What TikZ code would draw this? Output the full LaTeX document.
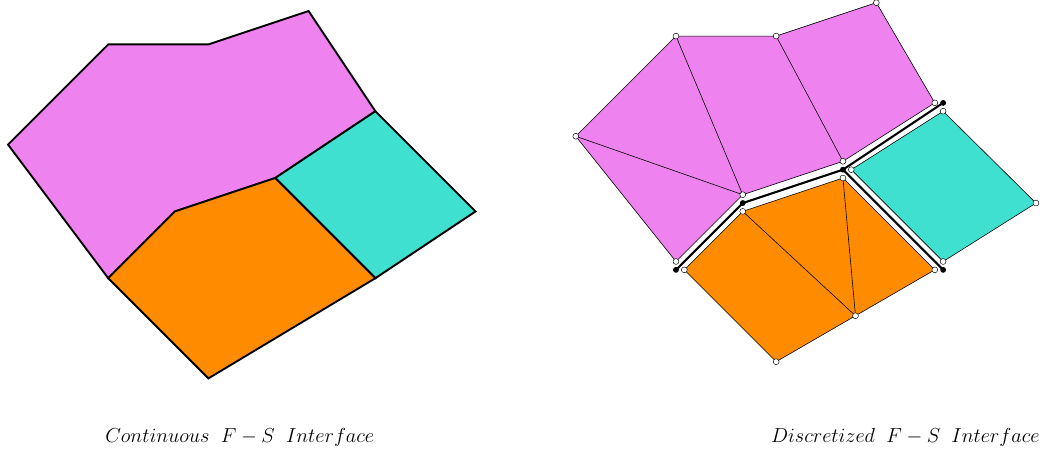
\documentclass[tikz,border=0pt]{standalone}
\usepackage{amsmath,amssymb}
\usepackage{xcolor}
\usepackage{tikz}
\usetikzlibrary{calc}
\definecolor{fluidviolet}{RGB}{238, 130, 238}
\definecolor{solidteal}{RGB}{64, 224, 208}
\definecolor{solidorange}{RGB}{255, 140, 0}

\begin{document}
\begin{tikzpicture}[x=1cm, y=1cm]
    \useasboundingbox (-0.24,0.33) rectangle (31.23,-13.20);
    \tikzset{
        region/.style={draw=black, line width=1.6pt, line join=miter},
        element/.style={draw=black, line width=0.5pt},
        meshline/.style={black, line width=0.5pt},
        interface/.style={black, line width=1.8pt},
        freenode/.style={circle, draw=black, fill=white, line width=0.4pt, inner sep=0pt, minimum size=5pt},
        ifacenode/.style={circle, fill=black, inner sep=0pt, minimum size=5pt},
        caption/.style={font=\fontsize{17.5}{21}\selectfont}
    }

    % Continuous domain
    \coordinate (A) at (0,-4);
    \coordinate (B) at (3,-1);
    \coordinate (C) at (6,-1);
    \coordinate (D) at (9,0);
    \coordinate (E) at (11,-3);
    \coordinate (F) at (14,-6);
    \coordinate (G) at (11,-8);
    \coordinate (H) at (6,-11);
    \coordinate (I) at (3,-8);
    \coordinate (J) at (5,-6);
    \coordinate (K) at (8,-5);

    \filldraw[region, fill=fluidviolet] (A) -- (B) -- (C) -- (D) -- (E) -- (K) -- (J) -- (I) -- cycle;
    \filldraw[region, fill=solidteal] (E) -- (F) -- (G) -- (K) -- cycle;
    \filldraw[region, fill=solidorange] (I) -- (J) -- (K) -- (G) -- (H) -- cycle;

    \node[caption] (capL) at (6.94,-12.78) {$Continuous\mkern10mu F-S\mkern10mu Interface$};

    % Discretized domain: fluid mesh
    \coordinate (vA) at (17,-3.75);
    \coordinate (vB) at (20,-0.75);
    \coordinate (vC) at (23,-0.75);
    \coordinate (vD) at (26,0.25);
    \coordinate (vE) at (27.75,-2.75);
    \coordinate (vK) at (25,-4.5);
    \coordinate (vJ) at (22,-5.5);
    \coordinate (vI) at (20,-7.5);

    \filldraw[element, fill=fluidviolet] (vA) -- (vB) -- (vC) -- (vD) -- (vE) -- (vK) -- (vJ) -- (vI) -- cycle;
    \draw[meshline] (vA) -- (vJ);
    \draw[meshline] (vB) -- (vJ);
    \draw[meshline] (vC) -- (vK);

    % Solid mesh (teal)
    \coordinate (tE) at (28,-3);
    \coordinate (tF) at (30.78,-5.75);
    \coordinate (tG) at (28,-7.5);
    \coordinate (tK) at (25.25,-4.75);

    \filldraw[element, fill=solidteal] (tE) -- (tF) -- (tG) -- (tK) -- cycle;

    % Solid mesh (orange)
    \coordinate (oI) at (20.25,-7.75);
    \coordinate (oJ) at (22,-6);
    \coordinate (oK) at (25,-5);
    \coordinate (oG) at (27.75,-7.75);
    \coordinate (oH) at (23,-10.5);
    \coordinate (oM) at ($(oG)!0.5!(oH)$);

    \filldraw[element, fill=solidorange] (oI) -- (oJ) -- (oK) -- (oG) -- (oH) -- cycle;
    \draw[meshline] (oJ) -- (oM);
    \draw[meshline] (oK) -- (oM);

    % Interface
    \coordinate (I') at (20,-7.75);
    \coordinate (J') at (22,-5.75);
    \coordinate (K') at (25,-4.75);
    \coordinate (E') at (28,-2.75);
    \coordinate (G') at (28,-7.75);

    \draw[interface] (I') -- (J') -- (K') -- (E');
    \draw[interface] (K') -- (G');

    \foreach \p in {I',J',K',E',G'}
        \node[ifacenode] at (\p) {};
    \foreach \p in {vA,vB,vC,vD,vE,vK,vJ,vI,tE,tF,tG,tK,oI,oJ,oK,oG,oH,oM}
        \node[freenode] at (\p) {};

    \node[caption] (capR) at (26.87,-12.78) {$Discretized\mkern10mu F-S\mkern10mu Interface$};
\end{tikzpicture}
\end{document}
